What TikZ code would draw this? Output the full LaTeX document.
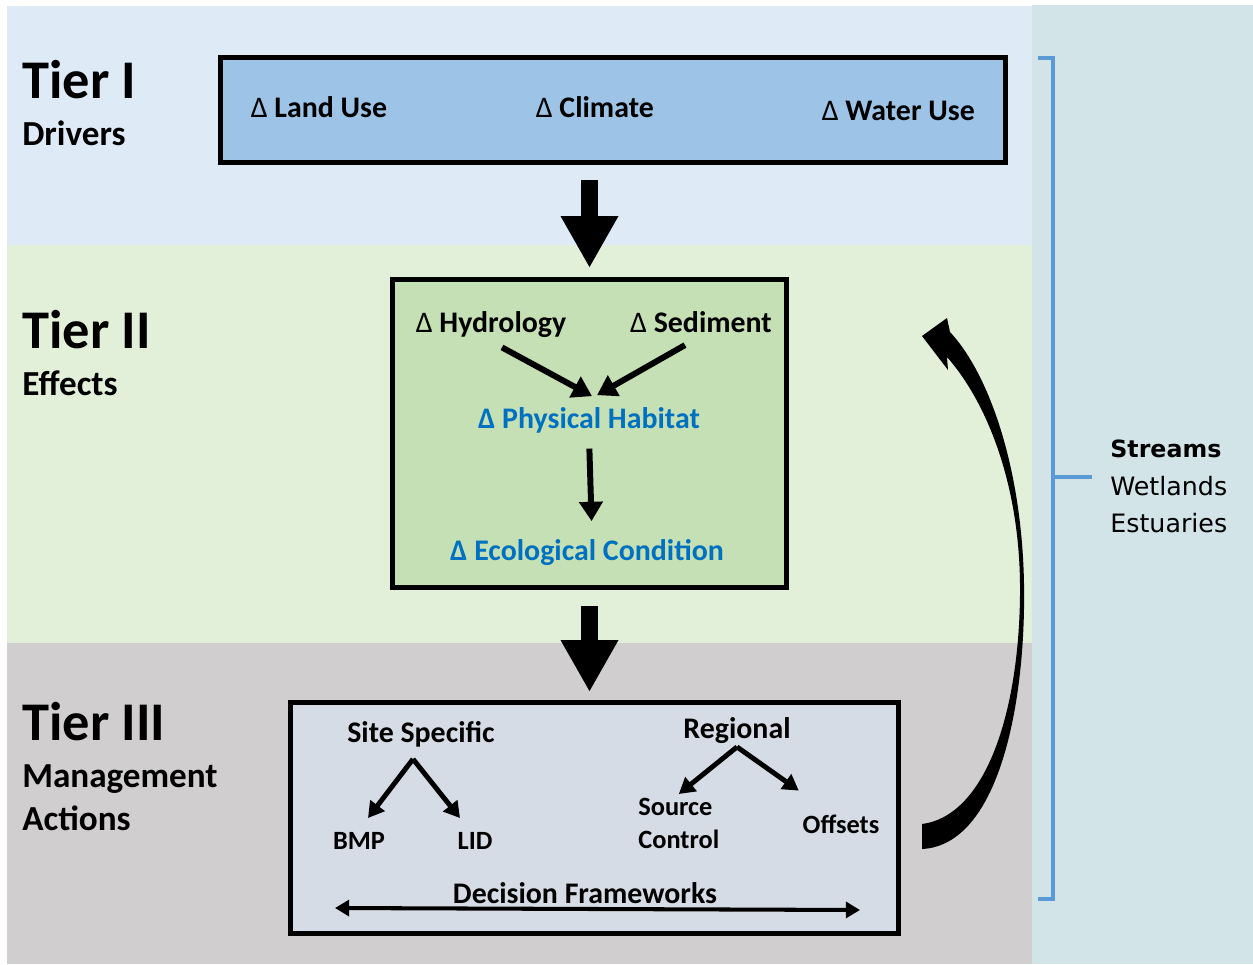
\documentclass[tikz,border=0pt]{standalone}
\usepackage{fontspec}
\setmainfont{Carlito}
\newfontfamily\dejavu{DejaVu Sans}
\usetikzlibrary{arrows.meta}

\definecolor{bandone}{RGB}{222,235,247}
\definecolor{bandtwo}{RGB}{226,240,217}
\definecolor{bandthree}{RGB}{208,206,206}
\definecolor{boxone}{RGB}{157,195,230}
\definecolor{boxtwo}{RGB}{197,224,180}
\definecolor{boxthree}{RGB}{214,220,229}
\definecolor{drops}{RGB}{211,228,233}
\definecolor{habblue}{RGB}{0,112,192}
\definecolor{bracecol}{RGB}{91,155,213}

\tikzset{
    tiertitle/.style={anchor=base west,inner sep=0pt,font=\fontsize{31}{36}\selectfont\bfseries},
    tiersub/.style={anchor=base west,inner sep=0pt,font=\fontsize{20}{24}\selectfont\bfseries},
    tierbox/.style={draw=black,line width=2.8pt,inner sep=0pt},
    txt/.style={anchor=base,inner sep=2pt,font=\fontsize{17}{20}\selectfont\bfseries},
    smalltxt/.style={anchor=base,inner sep=2pt,font=\fontsize{15}{19}\selectfont\bfseries},
    waters/.style={anchor=base west,inner sep=0pt,font=\dejavu\fontsize{14.4}{17}\selectfont},
    tierarrow/.style={line width=10.2pt,-{Triangle[width=30.7pt,length=29.6pt]}},
    habarrow/.style={line width=3.4pt,-{Triangle[width=13pt,length=11pt]}},
    splitarrow/.style={line width=2.8pt,-{Triangle[width=10pt,length=9pt]}},
    decarrow/.style={line width=2.3pt,{Triangle[width=9pt,length=8pt]}-{Triangle[width=9pt,length=8pt]}},
}

\newcommand{\Band}[3]{% ytop,ybottom,colour
    \fill[#3] (0.14,#1) rectangle (20.64,#2);
}
\newcommand{\Dl}{{\mdseries Δ}~}% thin delta in front of black labels

\begin{document}
\begin{tikzpicture}
        \useasboundingbox (0,0) rectangle (25.06,-19.28);
        \fill[white] (0,0) rectangle (25.06,-19.28);

        % tier bands and the water panel
        \Band{-0.12}{-4.9}{bandone};
        \Band{-4.9}{-12.86}{bandtwo};
        \Band{-12.86}{-19.28}{bandthree};
        \fill[drops] (20.64,-0.1) rectangle (25.06,-19.28);

        % tier labels
        \node[tiertitle] (tierone) at (0.44,-1.96) {Tier I};
        \node[tiersub] (drivers) at (0.44,-2.9) {Drivers};
        \node[tiertitle] (tiertwo) at (0.44,-6.96) {Tier II};
        \node[tiersub] (effects) at (0.44,-7.9) {Effects};
        \node[tiertitle] (tierthree) at (0.44,-14.8) {Tier III};
        \node[tiersub] (management) at (0.44,-15.74) {Management};
        \node[tiersub] (actions) at (0.44,-16.6) {Actions};

        % boxes
        \node[tierbox,fill=boxone,minimum width=15.7cm,minimum height=2.1cm] (driverbox) at (12.26,-2.2) {};
        \node[tierbox,fill=boxtwo,minimum width=7.88cm,minimum height=6.16cm] (effectbox) at (11.79,-8.67) {};
        \node[tierbox,fill=boxthree,minimum width=12.16cm,minimum height=4.62cm] (actionbox) at (11.89,-16.36) {};

        % tier I
        \node[txt,anchor=base west] (landuse) at (4.94,-2.34) {\Dl Land Use};
        \node[txt,anchor=base west] (climate) at (10.64,-2.34) {\Dl Climate};
        \node[txt,anchor=base west] (wateruse) at (16.36,-2.4) {\Dl Water Use};

        % tier II
        \node[txt] (hydro) at (9.82,-6.64) {\Dl Hydrology};
        \node[txt] (sed) at (14.02,-6.64) {\Dl Sediment};
        \node[txt,text=habblue] (phys) at (11.78,-8.56) {Δ Physical Habitat};
        \node[txt,text=habblue] (eco) at (11.74,-11.2) {Δ Ecological Condition};

        \draw[habarrow] ([xshift=0.22cm,yshift=-0.13cm]hydro.south) -- ([xshift=0.06cm,yshift=0.14cm]phys.north);
        \draw[habarrow] ([xshift=-0.32cm,yshift=-0.18cm]sed.south) -- ([xshift=0.16cm,yshift=0.16cm]phys.north);
        \draw[habarrow,shorten <=0.24cm,shorten >=0.28cm] (phys.south) -- ([xshift=0.1cm]eco.north);

        % tier III
        \node[txt] (site) at (8.42,-14.84) {Site Specific};
        \node[smalltxt] (bmp) at (7.18,-16.98) {BMP};
        \node[smalltxt] (lid) at (9.5,-16.98) {LID};
        \node[txt] (regional) at (14.74,-14.76) {Regional};
        \node[smalltxt,anchor=north west,align=left] (source) at (12.69,-15.88) {Source\\Control};
        \node[smalltxt] (offsets) at (16.82,-16.66) {Offsets};
        \node[txt] (decision) at (11.7,-18.06) {Decision Frameworks};

        \coordinate (sitefork) at ([xshift=-0.16cm,yshift=-0.17cm]site.south);
        \coordinate (regfork) at (regional.south);
        \draw[splitarrow] (sitefork) -- ([xshift=0.18cm,yshift=0.2cm]bmp.north);
        \draw[splitarrow] (sitefork) -- ([xshift=-0.3cm,yshift=0.2cm]lid.north);
        \draw[splitarrow] (regfork) -- (source.north);
        \draw[splitarrow] (regfork) -- ([yshift=0.4cm]offsets.north west);

        \coordinate (declft) at (6.7,-18.16);
        \coordinate (decrgt) at (17.2,-18.2);
        \draw[decarrow] (declft) -- (decrgt);

        % between the tiers
        \draw[tierarrow,shorten <=0.3cm,shorten >=0.18cm] (effectbox.north |- driverbox.south) -- (effectbox.north);
        \draw[tierarrow,shorten <=0.32cm,shorten >=0.16cm] (effectbox.south) -- (effectbox.south |- actionbox.north);

        % feedback arrow
        \fill[black] (18.44,-16.98) .. controls (20.0,-16.9) and (20.52,-14.0) .. (20.48,-11.68)
            .. controls (20.44,-9.4) and (19.8,-7.5) .. (19.0,-6.64)
            -- (18.94,-6.36) -- (18.44,-6.72) -- (18.96,-7.4) -- (18.94,-7.14)
            .. controls (19.7,-8.0) and (20.38,-9.6) .. (20.4,-11.68)
            .. controls (20.42,-14.0) and (19.8,-16.3) .. (18.44,-16.48) -- cycle;

        % bracket
        \draw[bracecol,line width=2.3pt] (20.76,-1.16) -- (21.06,-1.16) -- (21.06,-17.98) -- (20.76,-17.98);
        \draw[bracecol,line width=2.3pt] (21.06,-9.54) -- (21.84,-9.54);
        \node[waters,font=\dejavu\bfseries\fontsize{13.5}{17}\selectfont] (streams) at (22.2,-9.14) {Streams};
        \node[waters] (wetlands) at (22.2,-9.9) {Wetlands};
        \node[waters] (estuaries) at (22.2,-10.64) {Estuaries};

    \end{tikzpicture}
\end{document}
